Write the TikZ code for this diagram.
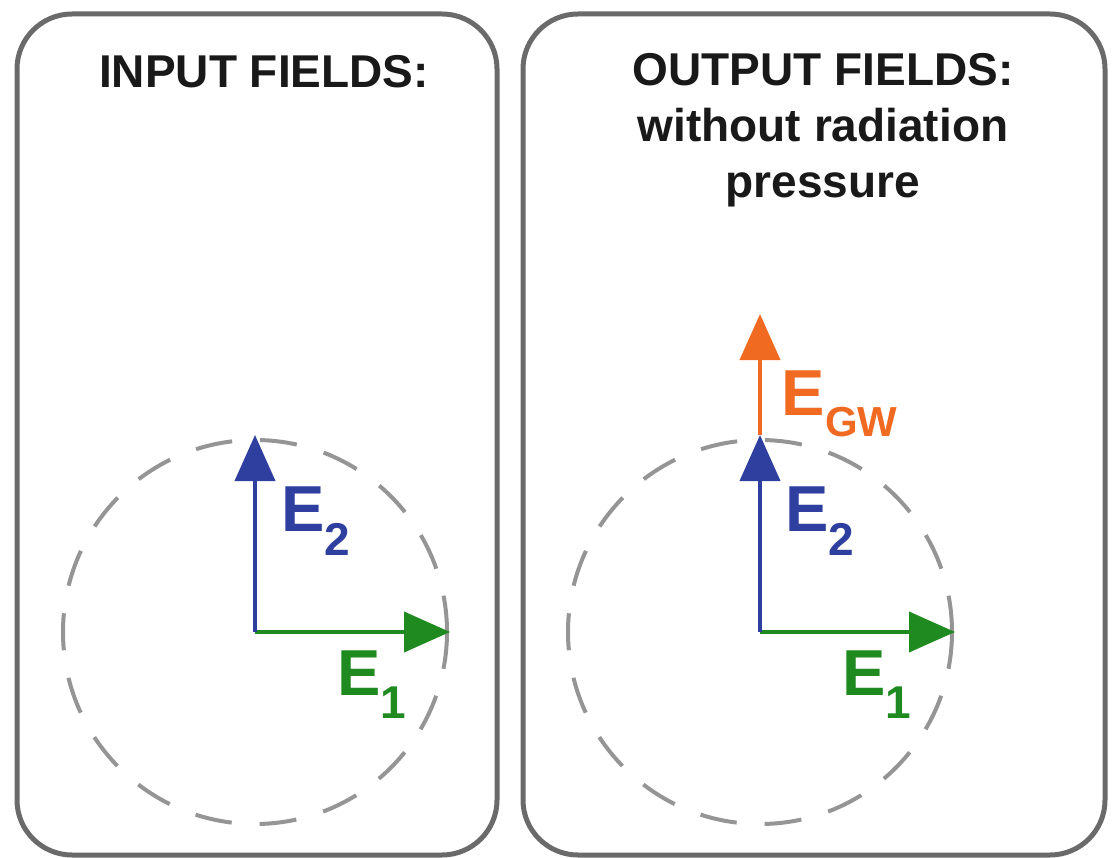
\documentclass[tikz,border=0pt]{standalone}
\usepackage{fontspec}
\setmainfont{Liberation Sans}
\usetikzlibrary{arrows.meta}
\definecolor{boxgray}{HTML}{6A6A6A}
\definecolor{dashgray}{HTML}{959595}
\definecolor{eblue}{HTML}{2F3FA0}
\definecolor{egreen}{HTML}{1F8A1F}
\definecolor{eorange}{HTML}{F06A22}
\tikzset{
  panel/.style={draw=boxgray, line width=5pt, rounded corners=55pt},
  ring/.style={draw=dashgray, line width=4pt, dash pattern=on 37pt off 28pt},
  vec/.style={line width=4pt, -{Triangle[length=46pt,width=40pt]}},
  title/.style={font=\fontsize{46}{56}\selectfont\bfseries, text=black!90, align=center},
  elabel/.style={font=\fontsize{65}{65}\selectfont\bfseries, inner sep=0pt},
}
\begin{document}
\begin{tikzpicture}[x=1pt,y=-1pt]
\useasboundingbox (0,0) rectangle (1113,858);
% panels
\draw[panel] (17,14) rectangle (497,855);
\draw[panel] (523,14) rectangle (1105,855);
% titles
\node[title] (tin) at (264,72) {INPUT FIELDS:};
\node[title, anchor=north] (tout) at (823,50) {OUTPUT FIELDS:\\without radiation\\pressure};
% left panel
\coordinate (oL) at (255,632);
\coordinate (e1L) at (450,632);
\coordinate (e2L) at (255,435);
\draw[ring] (oL) circle[radius=192];
\draw[vec, egreen] (oL) -- (e1L);
\draw[vec, eblue] (oL) -- (e2L);
\node[elabel, text=eblue] (lE2L) at (316,521) {E\textsubscript{\fontsize{46}{46}\selectfont 2}};
\node[elabel, text=egreen] (lE1L) at (372,685) {E\textsubscript{\fontsize{46}{46}\selectfont 1}};
% right panel
\coordinate (oR) at (760,632);
\coordinate (e1R) at (955,632);
\coordinate (e2R) at (760,435);
\coordinate (egw) at (760,314);
\draw[ring] (oR) circle[radius=192];
\draw[vec, egreen] (oR) -- (e1R);
\draw[vec, eorange] (e2R) -- (egw);
\draw[vec, eblue] (oR) -- (e2R);
\node[elabel, text=eblue] (lE2R) at (820,521) {E\textsubscript{\fontsize{46}{46}\selectfont 2}};
\node[elabel, text=egreen] (lE1R) at (877,685) {E\textsubscript{\fontsize{46}{46}\selectfont 1}};
\node[elabel, text=eorange] (lEgw) at (840,404) {E\textsubscript{\fontsize{42}{42}\selectfont GW}};
\end{tikzpicture}
\end{document}
